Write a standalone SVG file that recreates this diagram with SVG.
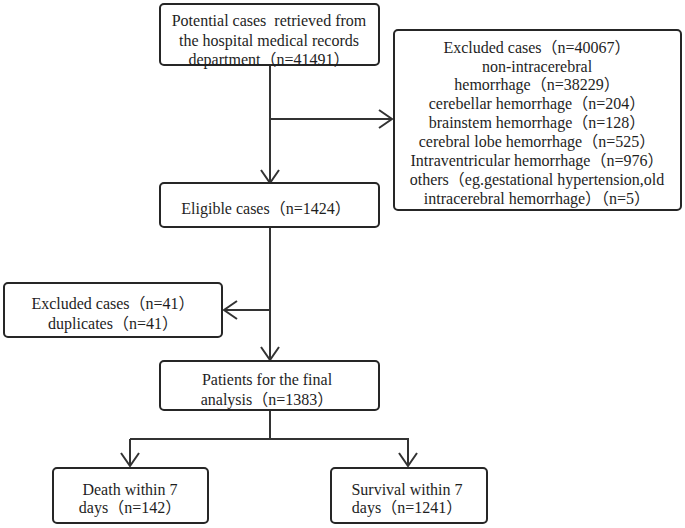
<svg xmlns="http://www.w3.org/2000/svg" width="685" height="528" viewBox="0 0 685 528">
<defs>
<style>
.box{fill:#fff;stroke:#262626;stroke-width:2}
.t{font-family:"Liberation Serif","Noto Sans CJK SC",serif;font-size:16px;fill:#1e1e1e;text-anchor:middle;dominant-baseline:central;white-space:pre}
.ln{fill:none;stroke:#333;stroke-width:2}
</style>
<marker id="arr" markerUnits="userSpaceOnUse" markerWidth="20" markerHeight="22" viewBox="-15 -11 17 22" refX="0" refY="0" orient="auto">
<path d="M-13,-9 L0,0 L-13,9" fill="none" stroke="#333" stroke-width="2"/>
</marker>
</defs>
<rect width="685" height="528" fill="#fff"/>
<g id="connectors">
<line class="ln" x1="270" y1="65" x2="270" y2="183" marker-end="url(#arr)"/>
<line class="ln" x1="270" y1="119" x2="392" y2="119" marker-end="url(#arr)"/>
<line class="ln" x1="270" y1="227" x2="270" y2="360" marker-end="url(#arr)"/>
<line class="ln" x1="270" y1="310" x2="224" y2="310" marker-end="url(#arr)"/>
<line class="ln" x1="270" y1="410" x2="270" y2="439"/>
<polyline class="ln" points="130,439 408,439 408,466" marker-end="url(#arr)"/>
<line class="ln" x1="130" y1="439" x2="130" y2="466" marker-end="url(#arr)"/>
</g>
<g id="n1">
<rect class="box" x="160" y="4" width="219" height="61" rx="4"/>
<text class="t" xml:space="preserve"><tspan x="269" y="20">Potential cases  retrieved from</tspan><tspan x="269" y="39.5">the hospital medical records</tspan><tspan x="269" y="59">department（n=41491）</tspan></text>
</g>
<g id="n2">
<rect class="box" x="394" y="30" width="287" height="180" rx="4"/>
<text class="t" xml:space="preserve"><tspan x="537" y="46.5">Excluded cases（n=40067）</tspan><tspan x="537" y="65.5">non-intracerebral</tspan><tspan x="537" y="84">hemorrhage（n=38229）</tspan><tspan x="537" y="103">cerebellar hemorrhage（n=204）</tspan><tspan x="537" y="122">brainstem hemorrhage（n=128）</tspan><tspan x="537" y="141">cerebral lobe hemorrhage（n=525）</tspan><tspan x="537" y="160">Intraventricular hemorrhage（n=976）</tspan><tspan x="537" y="179">others（eg.gestational hypertension,old</tspan><tspan x="537" y="198">intracerebral hemorrhage）（n=5）</tspan></text>
</g>
<g id="n3">
<rect class="box" x="160" y="183" width="219" height="44" rx="4"/>
<text class="t" x="266" y="208">Eligible cases（n=1424）</text>
</g>
<g id="n4">
<rect class="box" x="4" y="283" width="218" height="54" rx="4"/>
<text class="t"><tspan x="113" y="303">Excluded cases（n=41）</tspan><tspan x="113" y="323">duplicates（n=41）</tspan></text>
</g>
<g id="n5">
<rect class="box" x="160" y="361" width="219" height="49" rx="4"/>
<text class="t"><tspan x="267" y="379">Patients for the final</tspan><tspan x="267" y="399">analysis（n=1383）</tspan></text>
</g>
<g id="n6">
<rect class="box" x="53" y="468" width="155" height="55" rx="4"/>
<text class="t"><tspan x="130" y="489">Death within 7</tspan><tspan x="130" y="507">days（n=142）</tspan></text>
</g>
<g id="n7">
<rect class="box" x="331" y="468" width="156" height="55" rx="4"/>
<text class="t"><tspan x="407" y="489">Survival within 7</tspan><tspan x="407" y="507">days（n=1241）</tspan></text>
</g>
</svg>
